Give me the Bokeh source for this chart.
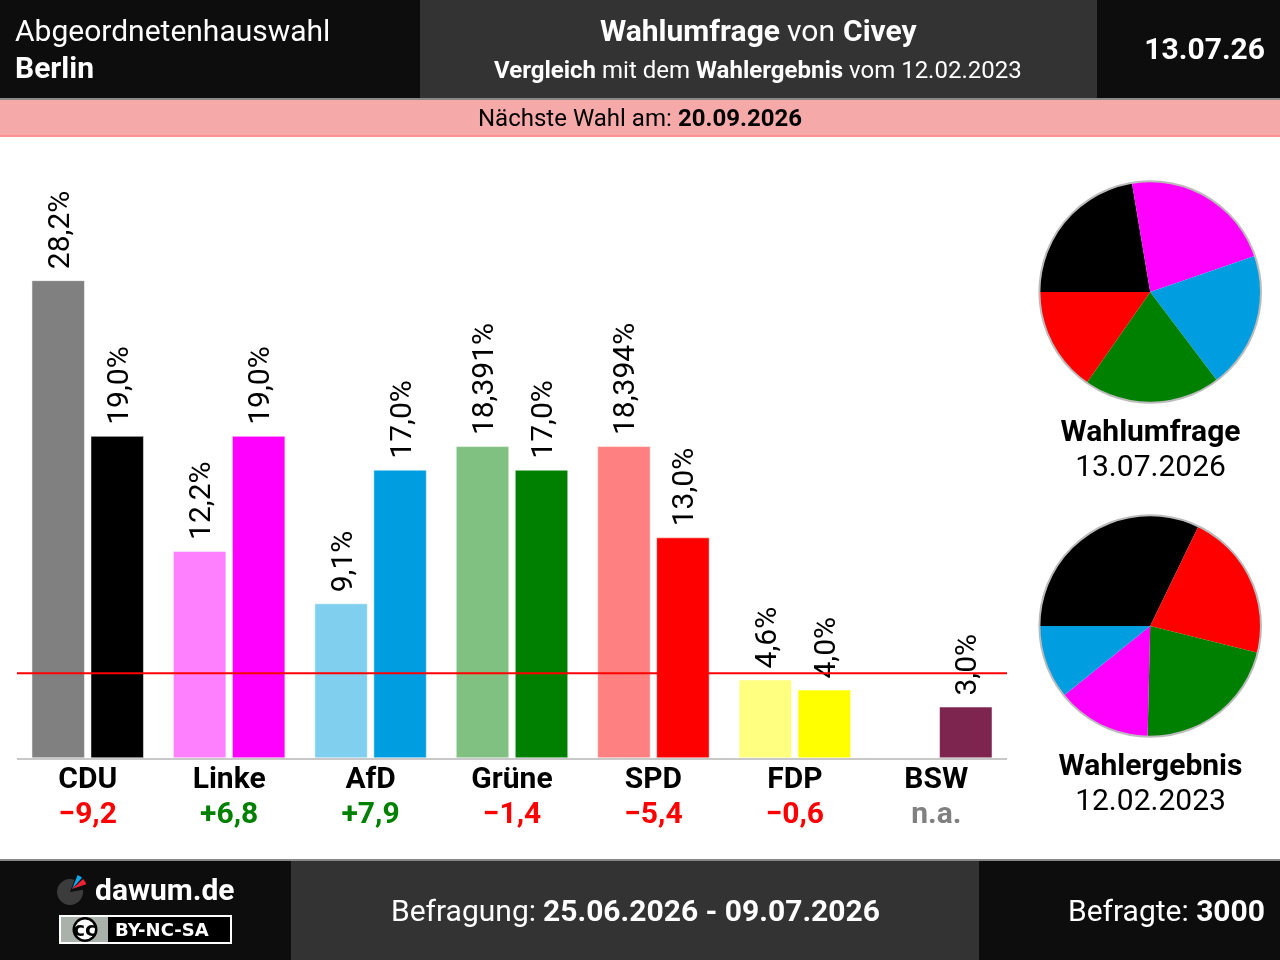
import numpy as np
from bokeh.core.properties import value
from bokeh.embed import file_html
from bokeh.models import ColumnDataSource, Range1d
from bokeh.plotting import figure
from bokeh.resources import INLINE

parties = ["CDU", "Linke", "AfD", "Grüne", "SPD", "FDP", "BSW"]
previous = [28.2, 12.2, 9.1, 18.391, 18.394, 4.6, None]
current = [19.0, 19.0, 17.0, 17.0, 13.0, 4.0, 3.0]
prev_labels = ["28,2%", "12,2%", "9,1%", "18,391%", "18,394%", "4,6%", ""]
curr_labels = ["19,0%", "19,0%", "17,0%", "17,0%", "13,0%", "4,0%", "3,0%"]
diffs = ["−9,2", "+6,8", "+7,9", "−1,4", "−5,4", "−0,6", "n.a."]
diff_colors = ["#ff0000", "#008000", "#008000", "#ff0000", "#ff0000", "#ff0000", "#808080"]
colors = ["#000000", "#ff00ff", "#009ee0", "#008000", "#ff0000", "#ffff00", "#7d254f"]
prev_colors = ["#808080", "#ff80ff", "#80cfef", "#80c080", "#ff8080", "#ffff80", "#ffffff"]
threshold = 5.0

pie_now_values = [19, 19, 17, 17, 13]
pie_now_colors = ["#000000", "#ff00ff", "#009ee0", "#008000", "#ff0000"]
pie_then_values = [27.7, 18.7, 18.5, 11.9, 9.3]
pie_then_colors = ["#000000", "#ff0000", "#008000", "#ff00ff", "#009ee0"]

W, H = 1280, 960
# The figure sits one pixel up and left so its half-pixel SVG edge falls off the page;
# the ranges compensate for that pixel and for Bokeh's half-pixel translation
p = figure(width=W + 1, height=H + 1, x_range=Range1d(-0.5, W + 0.5), y_range=Range1d(-0.5, H + 0.5),
           output_backend="svg", toolbar_location=None,
           x_axis_type=None, y_axis_type=None, min_border=0, outline_line_color=None)
p.grid.visible = False
p.styles = {"position": "fixed", "left": "-1px", "top": "-1px"}

# value scales for bars
PX_PER_UNIT = 16.92
BASE = 757.8
GROUP_W = 990 / 7
gstart = -(17 + 0.5) / GROUP_W
pend = (BASE + 0.5) / PX_PER_UNIT
p.extra_x_ranges["group"] = Range1d(gstart, gstart + (W + 1) / GROUP_W)
p.extra_y_ranges["pct"] = Range1d(pend - (H + 1) / PX_PER_UNIT, pend)


def box(x0, y0, x1, y1, color):
    p.quad(left=x0, right=x1, top=H - y0, bottom=H - y1, fill_color=color, line_color=None)


def txt(x, y, s, size, color="#000000", bold=False, align="left", font="Roboto"):
    p.text(x=[x], y=[H - y], text=[s], text_font=value(font), text_font_size=f"{size}px",
           text_font_style="bold" if bold else "normal", text_color=color,
           text_align=align, text_baseline="middle")


DARK, MID = "#0d0d0d", "#333333"
# header
box(-2, -2, 420, 98, DARK)
box(420, -2, 1097, 98, MID)
box(1097, -2, W + 2, 98, DARK)
box(-2, 98, W + 2, 100, "#888888")
box(-2, 100, W + 2, 135, "#f6a9a9")
box(-2, 135, W + 2, 137, "#ff9090")
# footer
box(-2, 859, W + 2, 861, "#888888")
box(-2, 861, 291, H + 2, DARK)
box(291, 861, 979, H + 2, MID)
box(979, 861, W + 2, H + 2, DARK)

txt(15, 30.3, "Abgeordnetenhauswahl", 30, "#ffffff")
txt(15, 67.3, "Berlin", 30, "#ffffff", True)
txt(600, 30.3, "Wahlumfrage", 30, "#ffffff", True)
txt(787, 30.3, "von", 30, "#ffffff")
txt(843, 30.3, "Civey", 30, "#ffffff", True)
txt(494, 70, "Vergleich", 24, "#ffffff", True)
txt(602, 70, "mit dem", 24, "#ffffff")
txt(696, 70, "Wahlergebnis", 24, "#ffffff", True)
txt(849, 70, "vom 12.02.2023", 24, "#ffffff")
txt(1265, 48.3, "13.07.26", 30, "#ffffff", True, "right")
txt(478, 118, "Nächste Wahl am:", 24)
txt(678, 117.6, "20.09.2026", 24, bold=True)
txt(391, 910.3, "Befragung:", 30, "#ffffff")
txt(543, 910.3, "25.06.2026 - 09.07.2026", 30, "#ffffff", True)
txt(1068, 910.3, "Befragte:", 30, "#ffffff")
txt(1265, 910.3, "3000", 30, "#ffffff", True, "right")

# logo
p.wedge(x=[70], y=[H - 892], radius=13, start_angle=np.radians(70), end_angle=np.radians(10),
        direction="anticlock", fill_color="#3c3c3c", line_color=None)
p.wedge(x=[72], y=[H - 889], radius=15, start_angle=np.radians(48), end_angle=np.radians(68),
        fill_color="#11a7e8", line_color=None)
p.wedge(x=[72], y=[H - 889], radius=15, start_angle=np.radians(18), end_angle=np.radians(42),
        fill_color="#ee2233", line_color=None)
txt(95, 889.3, "dawum.de", 30, "#ffffff", True)
box(59, 915, 232, 944, "#ffffff")
box(61, 917, 230, 942, "#000000")
box(61, 917, 108, 942, "#aab0aa")
p.circle(x=[85], y=[H - 929.5], radius=12.5, fill_color="#000000", line_color=None)
p.circle(x=[85], y=[H - 929.5], radius=10, fill_color="#ffffff", line_color=None)
txt(85, 928.5, "cc", 20, "#000000", True, "center", "DejaVu Sans")
txt(115, 929, "BY-NC-SA", 18, "#ffffff", True, "left", "DejaVu Sans")

# bars
idx = np.arange(len(parties)) + 0.5
OFF = 29.5 / GROUP_W
BW = 52.5 / GROUP_W
has_prev = [i for i, v in enumerate(previous) if v is not None]
src_prev = ColumnDataSource(dict(x=idx[has_prev] - OFF, top=[previous[i] for i in has_prev],
                                 color=[prev_colors[i] for i in has_prev],
                                 label=[prev_labels[i] for i in has_prev]))
src_curr = ColumnDataSource(dict(x=idx + OFF, top=current, color=colors, label=curr_labels))
for s in (src_prev, src_curr):
    p.vbar(x="x", top="top", bottom=0, width=BW, fill_color="color", line_color="#ffffff",
           line_alpha=0.5, line_width=1, source=s, x_range_name="group", y_range_name="pct")
    p.text(x="x", y="top", text="label", angle=np.pi / 2, text_font=value("Roboto"),
           text_font_size="30px", text_align="left", text_baseline="middle",
           y_offset=-11.5, x_offset=0, text_color="#000000", source=s,
           x_range_name="group", y_range_name="pct")

box(17, 758, 1007, 760, "#c8c8c8")
p.segment(x0=[0], x1=[7], y0=[threshold], y1=[threshold], line_color="#ff0000", line_width=2,
          x_range_name="group", y_range_name="pct")

# group labels
src_lab = ColumnDataSource(dict(x=idx, y=[0] * len(parties), name=parties, diff=diffs, c=diff_colors))
p.text(x="x", y="y", text="name", text_font=value("Roboto"), text_font_size="30px", text_font_style="bold",
       text_align="center", text_baseline="middle", y_offset=19.5, text_color="#000000",
       source=src_lab, x_range_name="group", y_range_name="pct")
p.text(x="x", y="y", text="diff", text_font=value("Roboto"), text_font_size="30px", text_font_style="bold",
       text_align="center", text_baseline="middle", y_offset=54.5, text_color="c",
       source=src_lab, x_range_name="group", y_range_name="pct")


# pies
def pie(cx, cy, vals, cols):
    shares = np.array(vals, dtype=float) / sum(vals) * 2 * np.pi
    edge = np.concatenate([[0], np.cumsum(shares)])
    src = ColumnDataSource(dict(start=np.pi - edge[1:], end=np.pi - edge[:-1], color=cols))
    p.wedge(x=cx, y=H - cy, radius=110.5, start_angle="start", end_angle="end", direction="anticlock",
            fill_color="color", line_color=None, source=src)
    p.circle(x=[cx], y=[H - cy], radius=110.8, fill_color=None, line_color="#bbbbbb", line_width=2)


pie(1150.2, 292, pie_now_values, pie_now_colors)
pie(1150.2, 626, pie_then_values, pie_then_colors)
txt(1150.5, 430.3, "Wahlumfrage", 30, bold=True, align="center")
txt(1150.5, 465.3, "13.07.2026", 30, align="center")
txt(1150.5, 764.3, "Wahlergebnis", 30, bold=True, align="center")
txt(1150.5, 799.3, "12.02.2023", 30, align="center")

open("out.html", "w").write(file_html(p, INLINE))
